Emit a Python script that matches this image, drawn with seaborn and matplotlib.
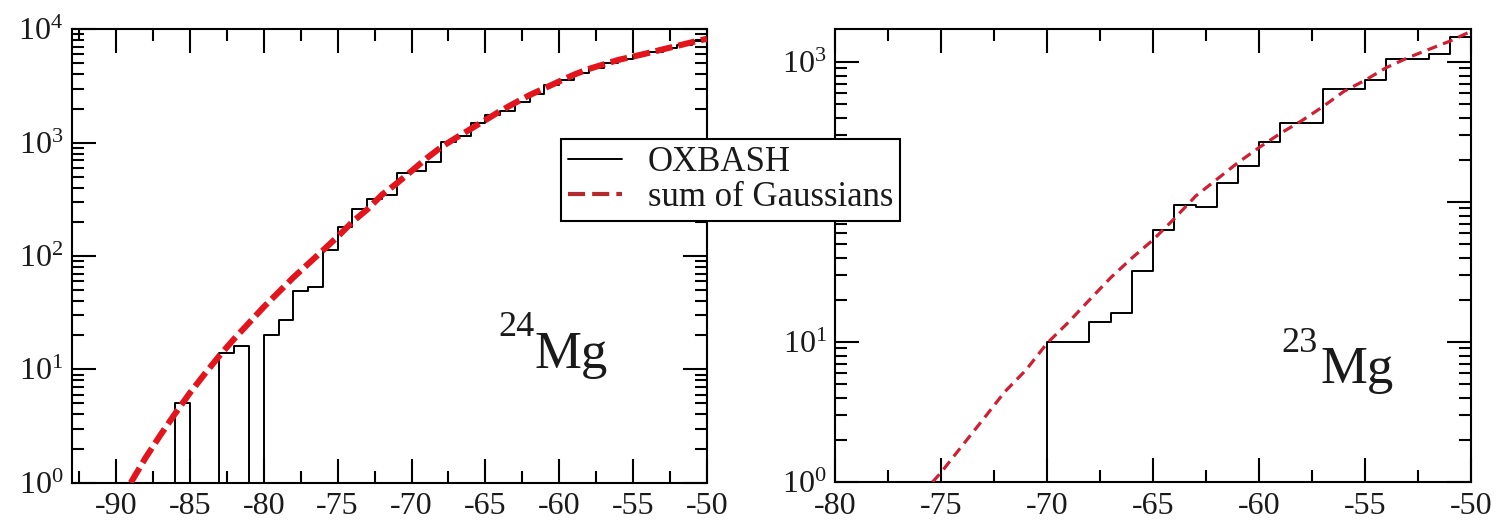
import numpy as np
import pandas as pd
import matplotlib
matplotlib.use("Agg")
import matplotlib.pyplot as plt
from matplotlib.lines import Line2D
from matplotlib.ticker import (FixedLocator, FixedFormatter, MultipleLocator,
                               LogLocator, NullFormatter)
import seaborn as sns

# ---- 24Mg: OXBASH level counts per 1-MeV bin (left bin edge) ----
mg24_bin_left = list(range(-86, -50))
mg24_counts = [5, 0, 0, 14, 16, 0, 20, 27, 49, 53,
               114, 180, 262, 316, 345, 537, 560, 680, 1020, 1150,
               1500, 1750, 1900, 2300, 2700, 3250, 3600, 4100, 4600, 5000,
               5500, 5900, 6300, 6800, 7300, 7900]
# 24Mg: sum-of-Gaussians density
mg24_curve_x = list(range(-89, -49))
mg24_curve_y = [1.0, 1.66, 2.63, 4.07, 6.2, 9.1, 13.2, 18.6, 25.7, 35.5,
                47.9, 64.6, 85.1, 112, 148, 200, 257, 347, 437, 562,
                724, 912, 1100, 1320, 1580, 1900, 2240, 2630, 3020, 3470,
                3980, 4470, 4900, 5370, 5750, 6170, 6650, 7150, 7700, 8250]

# ---- 23Mg ----
mg23_bin_left = list(range(-70, -50))
mg23_counts = [10, 10, 14, 16, 32, 63, 95, 92, 136, 182,
               270, 365, 365, 640, 640, 750, 1045, 1045, 1150, 1500]
mg23_curve_x = [-75.4, -75, -74, -73, -72, -71, -70, -69, -68, -67,
                -66, -65, -64, -63, -62, -61, -60, -59, -58, -57,
                -56, -55, -54, -53, -52, -51, -50]
mg23_curve_y = [1.0, 1.17, 1.82, 2.82, 4.4, 6.3, 9.8, 13.8, 20, 28.8,
                39.8, 53.7, 76, 110, 145, 191, 245, 309, 380, 479,
                617, 741, 912, 1070, 1230, 1410, 1660]

# ---- axis ticks ----
mg24_xticks = [-90, -85, -80, -75, -70, -65, -60, -55, -50]
mg24_xlabels = ["-90", "-85", "-80", "-75", "-70", "-65", "-60", "-55", "-50"]
mg24_yticks = [1, 10, 100, 1000, 10000]
mg24_ylabels = [r"$10^0$", r"$10^1$", r"$10^2$", r"$10^3$", r"$10^4$"]
mg23_xticks = [-80, -75, -70, -65, -60, -55, -50]
mg23_xlabels = ["-80", "-75", "-70", "-65", "-60", "-55", "-50"]
mg23_yticks = [1, 10, 100, 1000]
mg23_ylabels = [r"$10^0$", r"$10^1$", r"$10^2$", r"$10^3$"]

legend_labels = ["OXBASH", "sum of Gaussians"]

sns.set_theme(style="white")
plt.rcParams.update({
    "font.family": ["Liberation Serif", "DejaVu Serif"],
    "mathtext.fontset": "custom",
    "mathtext.rm": "Liberation Serif",
    "mathtext.it": "Liberation Serif:italic",
    "mathtext.bf": "Liberation Serif:bold",
    "axes.unicode_minus": False,
    "text.color": "#1a1a1a",
})

fig = plt.figure(figsize=(15.03, 5.26), dpi=100)
ax1 = fig.add_axes([0.0477, 0.0823, 0.4227, 0.8620])
ax2 = fig.add_axes([0.5556, 0.0837, 0.4232, 0.8606])


def draw_panel(ax, bin_left, counts, edges, cx, cy, color, lw, dash):
    hist = pd.DataFrame({"energy": np.asarray(bin_left, dtype=float) + 0.5,
                         "levels": counts})
    sns.histplot(data=hist, x="energy", weights="levels", bins=list(edges),
                 element="step", fill=False, color="black", linewidth=1.4,
                 ax=ax, zorder=2)
    curve = pd.DataFrame({"energy": cx, "density": cy})
    sns.lineplot(data=curve, x="energy", y="density", color=color,
                 linewidth=lw, linestyle=(0, dash), ax=ax, zorder=3)


def style_axes(ax, xlim, ylim, xt, xl, yt, yl):
    ax.set_yscale("log")
    ax.set_xlim(*xlim)
    ax.set_ylim(*ylim)
    ax.xaxis.set_major_locator(FixedLocator(xt))
    ax.xaxis.set_major_formatter(FixedFormatter(xl))
    ax.xaxis.set_minor_locator(MultipleLocator(2.5))
    ax.yaxis.set_major_locator(FixedLocator(yt))
    ax.yaxis.set_major_formatter(FixedFormatter(yl))
    ax.yaxis.set_minor_locator(LogLocator(base=10, subs=np.arange(2, 10), numticks=30))
    ax.yaxis.set_minor_formatter(NullFormatter())
    ax.tick_params(which="both", direction="in", top=True, right=True,
                   bottom=True, left=True, width=1.5, color="black",
                   labelcolor="#1a1a1a")
    ax.tick_params(which="major", length=17)
    ax.tick_params(which="minor", length=8.5)
    ax.tick_params(axis="x", which="major", labelsize=23, pad=7)
    ax.tick_params(axis="y", which="major", labelsize=23, pad=6)
    ax.set_xlabel("")
    ax.set_ylabel("")
    ax.set_facecolor("white")
    for sp in ax.spines.values():
        sp.set_visible(True)
        sp.set_linewidth(1.5)
        sp.set_color("black")


draw_panel(ax1, mg24_bin_left, mg24_counts, range(-93, -49),
           mg24_curve_x, mg24_curve_y, "#e3141c", 4.4, (2.8, 1.0))
style_axes(ax1, (-93, -50), (1, 1e4), mg24_xticks, mg24_xlabels,
           mg24_yticks, mg24_ylabels)

draw_panel(ax2, mg23_bin_left, mg23_counts, range(-80, -49),
           mg23_curve_x, mg23_curve_y, "#cf1f33", 2.3, (3.2, 2.0))
style_axes(ax2, (-80, -50), (1, 1713), mg23_xticks, mg23_xlabels,
           mg23_yticks, mg23_ylabels)

# isotope labels
ax1.text(0.671, 0.3227, "24", transform=ax1.transAxes, fontsize=26,
         ha="left", va="baseline")
ax1.text(0.729, 0.253, "Mg", transform=ax1.transAxes, fontsize=38,
         ha="left", va="baseline")
ax2.text(0.7024, 0.2878, "23", transform=ax2.transAxes, fontsize=26,
         ha="left", va="baseline")
ax2.text(0.7626, 0.2187, "Mg", transform=ax2.transAxes, fontsize=38,
         ha="left", va="baseline")

handles = [Line2D([], [], color="black", linewidth=1.4),
           Line2D([], [], color="#b22a2e", linewidth=3.0,
                  linestyle=(0, (4.1, 1.7)))]
leg = fig.legend(handles, legend_labels, loc="upper left",
                 bbox_to_anchor=(0.3731, 0.7352), fontsize=25,
                 frameon=True, fancybox=False, edgecolor="black",
                 facecolor="white", framealpha=1, borderpad=0.2,
                 labelspacing=0.05, handlelength=1.55, handletextpad=0.75,
                 borderaxespad=0.0)
leg.get_frame().set_linewidth(1.5)
leg.set_zorder(10)

fig.savefig("out.png", dpi=100, facecolor="white")
